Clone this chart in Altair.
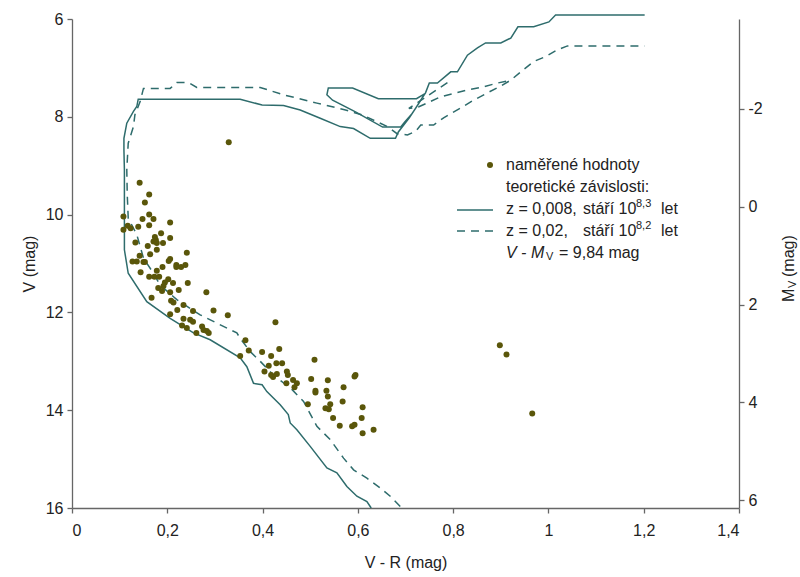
import altair as alt
import pandas as pd

FONT = "Liberation Sans"
LINE_COLOR = "#2e6c6c"
DOT_COLOR = "#5a560a"
TEXT_COLOR = "#222222"

# distance modulus V - M_V
DIST_MOD = 9.84

# --- isochrone z = 0.008, age 10^8.3 (solid) ---
solid_vr = [0.628, 0.619, 0.598, 0.577, 0.556, 0.535, 0.500, 0.472, 0.458, 0.454,
            0.437, 0.409, 0.399, 0.381, 0.367, 0.353, 0.290, 0.255, 0.234, 0.206,
            0.157, 0.118, 0.110, 0.110, 0.109, 0.109, 0.115, 0.129, 0.136, 0.139,
            0.353, 0.399, 0.444, 0.479, 0.521, 0.563, 0.591, 0.626, 0.679,
            0.685, 0.708, 0.727, 0.740,
            0.723, 0.643, 0.589, 0.538, 0.535, 0.547, 0.595, 0.652, 0.690, 0.698,
            0.715, 0.732, 0.742, 0.750, 0.767, 0.795, 0.809, 0.830, 0.851, 0.868,
            0.900, 0.921, 0.936, 0.969, 1.001, 1.015, 1.202]
solid_v = [16.00, 15.87, 15.76, 15.56, 15.28, 15.18, 14.74, 14.40, 14.26, 14.09,
           13.89, 13.62, 13.48, 13.45, 13.11, 12.93, 12.56, 12.42, 12.29, 12.12,
           11.78, 11.20, 10.72, 9.09, 8.68, 8.44, 8.13, 7.89, 7.79, 7.64,
           7.64, 7.76, 7.77, 7.86, 8.03, 8.20, 8.24, 8.44, 8.44,
           8.31, 8.02, 7.74, 7.53,
           7.63, 7.63, 7.41, 7.41, 7.55, 7.66, 7.90, 8.21, 8.21, 8.11,
           7.92, 7.66, 7.51, 7.31, 7.31, 7.08, 7.08, 6.74, 6.59, 6.49,
           6.49, 6.39, 6.16, 6.16, 6.06, 5.92, 5.92]

# --- isochrone z = 0.02, age 10^8.2 (dashed), main branch ---
dash_a_vr = [0.689, 0.668, 0.647, 0.619, 0.591, 0.570, 0.542, 0.514, 0.486, 0.462,
             0.423, 0.395, 0.374, 0.353, 0.346, 0.304, 0.269, 0.220, 0.185, 0.171,
             0.150, 0.136, 0.118, 0.116, 0.115, 0.118, 0.129, 0.132, 0.143, 0.150,
             0.206, 0.220, 0.245, 0.262, 0.395, 0.444, 0.514, 0.574, 0.609, 0.662,
             0.683, 0.704, 0.721, 0.732, 0.759, 0.780, 0.816, 0.843, 0.872, 0.900,
             0.921, 0.942, 0.969, 0.994, 1.019, 1.040, 1.202]
dash_a_v = [15.97, 15.76, 15.59, 15.39, 15.22, 14.98, 14.60, 14.33, 13.82, 13.58,
            13.28, 13.00, 12.80, 12.53, 12.42, 12.22, 12.05, 11.74, 11.44, 11.20,
            10.89, 10.41, 10.07, 9.60, 9.09, 8.54, 8.20, 7.96, 7.69, 7.42,
            7.42, 7.30, 7.30, 7.40, 7.40, 7.55, 7.72, 7.86, 7.96, 8.20,
            8.35, 8.37, 8.30, 8.17, 8.17, 8.02, 7.82, 7.66, 7.51, 7.37,
            7.25, 7.08, 6.87, 6.77, 6.63, 6.55, 6.55]
# dashed loop
dash_b_vr = [0.788, 0.707, 0.727, 0.774, 0.830, 0.862, 0.893, 0.921]
dash_b_v = [7.30, 7.83, 7.80, 7.59, 7.45, 7.39, 7.31, 7.25]

# --- measured stars ---
star_vr = [0.142, 0.162, 0.153, 0.162, 0.171, 0.148, 0.108, 0.108, 0.117, 0.123,
           0.139, 0.162, 0.206, 0.187, 0.174, 0.176, 0.171, 0.178, 0.191, 0.206,
           0.133, 0.159, 0.178, 0.164, 0.142, 0.241, 0.206, 0.203, 0.127, 0.136,
           0.150, 0.153, 0.219, 0.219, 0.229, 0.238, 0.190, 0.178, 0.144, 0.162,
           0.173, 0.183, 0.202, 0.195, 0.212, 0.243, 0.192, 0.181, 0.189, 0.206,
           0.224, 0.167, 0.208, 0.213, 0.234, 0.282, 0.206, 0.221, 0.254, 0.297,
           0.327, 0.234, 0.248, 0.254, 0.231, 0.241, 0.273, 0.276, 0.283, 0.261,
           0.287,
           0.427, 0.364, 0.353, 0.371, 0.399, 0.418, 0.435, 0.413, 0.429, 0.441,
           0.404, 0.418, 0.422, 0.430, 0.451, 0.453, 0.450, 0.464, 0.472, 0.467,
           0.509, 0.502, 0.537, 0.511, 0.511, 0.534, 0.537, 0.570, 0.595, 0.593,
           0.568, 0.495, 0.532, 0.539, 0.542, 0.548, 0.562, 0.588, 0.593, 0.608,
           0.610, 0.610, 0.633,
           0.329, 0.898, 0.912, 0.966]
star_v = [9.35, 9.59, 9.75, 10.00, 10.09, 10.09, 10.04, 10.31, 10.23, 10.28,
          10.25, 10.22, 10.16, 10.38, 10.46, 10.52, 10.55, 10.58, 10.58, 10.48,
          10.57, 10.64, 10.72, 10.81, 10.84, 10.78, 10.91, 10.95, 10.96, 10.96,
          10.97, 10.97, 11.03, 11.07, 11.07, 11.03, 11.07, 11.15, 11.18, 11.27,
          11.27, 11.27, 11.32, 11.39, 11.40, 11.40, 11.46, 11.50, 11.56, 11.59,
          11.54, 11.70, 11.76, 11.80, 11.85, 11.59, 12.04, 11.95, 11.97, 11.96,
          12.06, 12.13, 12.15, 12.19, 12.27, 12.32, 12.29, 12.36, 12.38, 12.42,
          12.42,
          12.20, 12.57, 12.89, 12.78, 12.81, 12.89, 12.75, 13.09, 13.04, 13.04,
          13.21, 13.28, 13.32, 13.26, 13.21, 13.28, 13.45, 13.38, 13.45, 13.53,
          12.97, 13.36, 13.39, 13.60, 13.64, 13.60, 13.72, 13.53, 13.28, 13.31,
          13.82, 13.88, 13.96, 13.98, 13.88, 14.16, 14.32, 14.33, 14.30, 14.16,
          13.94, 14.47, 14.40,
          8.52, 12.67, 12.86, 14.07]

x_ticks = [0, 0.2, 0.4, 0.6, 0.8, 1.0, 1.2, 1.4]
v_ticks = [6, 8, 10, 12, 14, 16]
m_ticks = [-2, 0, 2, 4, 6]


def path_df(xs, vs, seg):
    return pd.DataFrame({"vr": xs, "v": vs, "i": list(range(len(xs))), "seg": seg})


solid_df = path_df(solid_vr, solid_v, "a")
dash_df = pd.concat([path_df(dash_a_vr, dash_a_v, "a"),
                     path_df(dash_b_vr, dash_b_v, "b")], ignore_index=True)
star_df = pd.DataFrame({"vr": star_vr, "v": star_v})

xscale = alt.Scale(domain=[0, 1.4], nice=False, zero=False)
yscale = alt.Scale(domain=[6, 16], reverse=True, nice=False, zero=False)

x_axis = alt.Axis(values=x_ticks, grid=False, tickSize=5, labelPadding=9, titlePadding=16,
                  title="V - R (mag)",
                  labelExpr="datum.value == 0 ? '0' : replace(format(datum.value, '~g'), '.', ',')")
y_axis = alt.Axis(values=v_ticks, grid=False, tickSize=5, labelPadding=4, titlePadding=8,
                  title="V (mag)")

X = alt.X("vr:Q", scale=xscale, axis=x_axis)
Y = alt.Y("v:Q", scale=yscale, axis=y_axis)

solid = alt.Chart(solid_df).mark_line(color=LINE_COLOR, strokeWidth=1.5).encode(
    x=X, y=Y, order="i:Q", detail="seg:N")
dashed = alt.Chart(dash_df).mark_line(color=LINE_COLOR, strokeWidth=1.5, strokeDash=[8, 6]).encode(
    x=X, y=Y, order="i:Q", detail="seg:N")
points = alt.Chart(star_df).mark_circle(color=DOT_COLOR, size=36, opacity=1).encode(x=X, y=Y)

one = pd.DataFrame({"a": [0]})


def txt(s, x, y, size=16, style="normal", angle=0):
    return alt.Chart(one).mark_text(align="left", baseline="middle", font=FONT, fontSize=size,
                                    fontStyle=style, color=TEXT_COLOR, angle=angle).encode(
        x=alt.value(x), y=alt.value(y), text=alt.value(s))


legend = [
    alt.Chart(one).mark_circle(color=DOT_COLOR, size=36, opacity=1).encode(
        x=alt.value(418), y=alt.value(146)),
    txt("naměřené hodnoty", 434, 146),
    txt("teoretické závislosti:", 434, 168),
    alt.Chart(one).mark_rule(color=LINE_COLOR, strokeWidth=1.5).encode(
        x=alt.value(385), x2=alt.value(421), y=alt.value(191)),
    txt("z = 0,008,", 434, 190),
    txt("stáří 10", 511, 190),
    txt("8,3", 564, 185, size=11),
    txt("let", 589, 190),
    alt.Chart(one).mark_rule(color=LINE_COLOR, strokeWidth=1.5, strokeDash=[8, 6]).encode(
        x=alt.value(385), x2=alt.value(421), y=alt.value(212)),
    txt("z = 0,02,", 434, 212),
    txt("stáří 10", 511, 212),
    txt("8,2", 564, 207, size=11),
    txt("let", 589, 212),
    txt("V - M", 434, 234, style="italic"),
    txt("V", 474, 238, size=11),
    txt("= 9,84 mag", 487, 234),
    # right axis title M_V (mag)
    txt("M", 717, 283, angle=270),
    txt("V", 721, 269, size=11, angle=270),
    txt("(mag)", 717, 258, angle=270),
]

main = alt.layer(solid, dashed, points, *legend)

right = alt.Chart(pd.DataFrame({"m": [6 - DIST_MOD, 16 - DIST_MOD]})).mark_point(opacity=0).encode(
    y=alt.Y("m:Q",
            scale=alt.Scale(domain=[6 - DIST_MOD, 16 - DIST_MOD], reverse=True, nice=False, zero=False),
            axis=alt.Axis(orient="right", values=m_ticks, grid=False, tickSize=5, labelPadding=4,
                          title=None,
                          labelExpr="datum.value < 0 ? '-' + abs(datum.value) : '' + datum.value")))

chart = alt.layer(main, right).resolve_scale(y="independent").properties(
    width=667, height=489,
    padding={"left": 72, "top": 19, "right": 61, "bottom": 69},
    autosize=alt.AutoSizeParams(type="none"),
).configure_axis(
    labelFont=FONT, titleFont=FONT, labelFontSize=16, titleFontSize=16,
    titleFontWeight="normal", labelColor=TEXT_COLOR, titleColor=TEXT_COLOR,
    domainColor="#666666", tickColor="#666666", domainWidth=1.3, tickWidth=1.3,
).configure_view(stroke=None)

chart.save("out.html", embed_options={"renderer": "svg", "actions": False})
